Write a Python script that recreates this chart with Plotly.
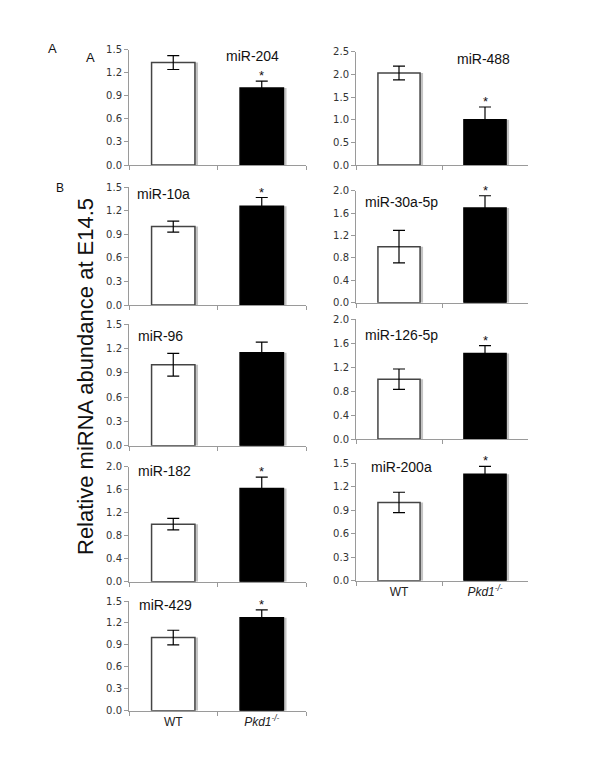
import plotly.graph_objects as go

# ---------------- data ----------------
mirnas = ["miR-204", "miR-488", "miR-10a", "miR-30a-5p", "miR-96",
          "miR-126-5p", "miR-182", "miR-200a", "miR-429"]
categories = ["WT", "<i>Pkd1<sup>-/-</sup></i>"]
wt_mean = [1.33, 2.03, 1.00, 1.00, 1.00, 1.00, 1.00, 1.00, 1.00]
wt_err = [0.09, 0.15, 0.07, 0.29, 0.14, 0.17, 0.10, 0.13, 0.10]
ko_mean = [1.00, 1.00, 1.26, 1.69, 1.15, 1.43, 1.62, 1.36, 1.27]
ko_err = [0.09, 0.28, 0.11, 0.22, 0.13, 0.13, 0.20, 0.10, 0.11]
significant = [True, True, True, True, False, True, True, True, True]
y_max = [1.5, 2.5, 1.5, 2.0, 1.5, 2.0, 2.0, 1.5, 1.5]
y_step = [0.3, 0.5, 0.3, 0.4, 0.3, 0.4, 0.4, 0.3, 0.3]
y_title = "Relative miRNA abundance at E14.5"

# ---------------- layout (pixels) ----------------
W, H = 600, 776
# (x_left, x_right, y_top, y_bottom) of each plot area in px
boxes = [
    (129, 306, 49.5, 165.0),
    (356, 528, 51.7, 165.0),
    (129, 306, 187.3, 305.0),
    (356, 528, 190.7, 302.7),
    (129, 306, 324.3, 445.7),
    (356, 528, 319.3, 439.0),
    (129, 306, 466.7, 581.7),
    (356, 528, 463.3, 580.7),
    (129, 306, 601.0, 710.7),
]
# title annotation positions in axis-domain coords (x, y, anchor)
title_pos = [
    (0.70, 0.94, "center"),
    (0.74, 0.935, "center"),
    (0.034, 0.943, "left"),
    (0.04, 0.90, "left"),
    (0.04, 0.90, "left"),
    (0.04, 0.87, "left"),
    (0.04, 0.96, "left"),
    (0.075, 0.97, "left"),
    (0.045, 0.96, "left"),
]
show_xlabels = [False, False, False, False, False, False, False, True, True]

fig = go.Figure()
annotations = []
bw = 0.49
shadow_dx = 0.035

for i, name in enumerate(mirnas):
    k = "" if i == 0 else str(i + 1)
    xa, ya = "x" + k, "y" + k
    # shadow bars
    fig.add_trace(go.Bar(
        x=categories, y=[wt_mean[i], ko_mean[i]], xaxis=xa, yaxis=ya,
        width=bw, offset=-bw / 2 + shadow_dx,
        marker=dict(color="#c4c4c4", line=dict(width=0)),
        showlegend=False, hoverinfo="skip"))
    # main bars
    fig.add_trace(go.Bar(
        x=categories, y=[wt_mean[i], ko_mean[i]], xaxis=xa, yaxis=ya,
        width=bw, offset=-bw / 2,
        marker=dict(color=["white", "black"],
                    line=dict(color=["#444444", "#000000"], width=1.5)),
        error_y=dict(type="data", array=[wt_err[i], ko_err[i]],
                     color="black", thickness=1.2, width=6),
        showlegend=False))
    x0, x1, yt, yb = boxes[i]
    lay_x = dict(domain=[x0 / W, x1 / W], anchor=ya, automargin=False,
                 type="category", tickson="boundaries",
                 showline=True, linecolor="#9a9a9a", linewidth=1,
                 ticks="outside", ticklen=4, tickcolor="#9a9a9a",
                 showgrid=False, zeroline=False,
                 showticklabels=show_xlabels[i],
                 tickfont=dict(family="Liberation Sans, Arial", size=12, color="#222"),
                 range=[-0.5, 1.5], fixedrange=True)
    ticks = []
    v = 0.0
    while v <= y_max[i] + 1e-9:
        ticks.append(round(v, 2))
        v += y_step[i]
    lay_y = dict(domain=[1 - yb / H, 1 - yt / H], anchor=xa, automargin=False,
                 range=[0, y_max[i]], tickvals=ticks, tickformat=".1f",
                 showline=True, linecolor="#9a9a9a", linewidth=1,
                 ticks="outside", ticklen=4, tickcolor="#9a9a9a",
                 showgrid=False, zeroline=False,
                 tickfont=dict(family="DejaVu Sans, Verdana", size=10, color="#333"),
                 fixedrange=True)
    fig.layout["xaxis" + k] = lay_x
    fig.layout["yaxis" + k] = lay_y
    tx, ty, anc = title_pos[i]
    annotations.append(dict(
        text=name, xref=xa + " domain", yref=ya + " domain",
        x=tx, y=ty, xanchor=anc, yanchor="middle", showarrow=False,
        font=dict(family="Liberation Sans, Arial", size=14, color="#111")))
    if significant[i]:
        annotations.append(dict(
            text="*", xref=xa, yref=ya, x=categories[1],
            y=ko_mean[i] + ko_err[i], yshift=-4,
            xanchor="center", yanchor="bottom", showarrow=False,
            font=dict(family="Liberation Sans, Arial", size=13, color="#111")))

# panel letters and shared y title
annotations += [
    dict(text="A", xref="paper", yref="paper", x=52 / W, y=1 - 48 / H,
         xanchor="center", yanchor="middle", showarrow=False,
         font=dict(family="Liberation Sans, Arial", size=13, color="#111")),
    dict(text="A", xref="paper", yref="paper", x=90 / W, y=1 - 58 / H,
         xanchor="center", yanchor="middle", showarrow=False,
         font=dict(family="Liberation Sans, Arial", size=13, color="#111")),
    dict(text="B", xref="paper", yref="paper", x=60 / W, y=1 - 188 / H,
         xanchor="center", yanchor="middle", showarrow=False,
         font=dict(family="Liberation Sans, Arial", size=12, color="#111")),
    dict(text=y_title, xref="paper", yref="paper", x=85 / W, y=1 - 377 / H,
         xanchor="center", yanchor="middle", showarrow=False, textangle=-90,
         font=dict(family="Liberation Sans, Arial", size=22, color="#111")),
]

fig.update_layout(
    width=W, height=H, autosize=False,
    margin=dict(l=0, r=0, t=0, b=0, autoexpand=False),
    paper_bgcolor="white", plot_bgcolor="white",
    barmode="overlay", bargap=0.5,
    annotations=annotations,
)

fig.write_html("out.html", config={"displayModeBar": False},
               post_script="document.body.style.margin='0';")
